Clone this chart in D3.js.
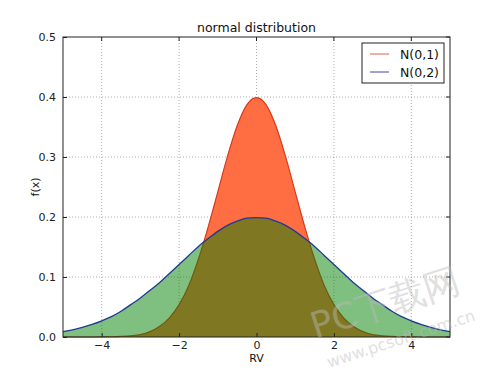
<!DOCTYPE html>
<html>
<head>
<meta charset="utf-8">
<script src="https://cdn.jsdelivr.net/npm/d3@7"></script>
<style>
  body { margin: 0; background: #fff; }
  text { font-family: "DejaVu Sans", sans-serif; }
</style>
</head>
<body>
<div id="chart"></div>
<script>
const xs = [-5, -4.75, -4.5, -4.25, -4, -3.75, -3.5, -3.25, -3, -2.75, -2.5, -2.25, -2, -1.75, -1.5, -1.25, -1, -0.75, -0.5, -0.25,
  0, 0.25, 0.5, 0.75, 1, 1.25, 1.5, 1.75, 2, 2.25, 2.5, 2.75, 3, 3.25, 3.5, 3.75, 4, 4.25, 4.5, 4.75, 5];
const n01 = [0, 0, 0, 0, 0.0001, 0.0004, 0.001, 0.002, 0.004, 0.009, 0.018, 0.032, 0.054, 0.086, 0.130, 0.183, 0.242, 0.301, 0.352, 0.387,
  0.399, 0.387, 0.352, 0.301, 0.242, 0.183, 0.130, 0.086, 0.054, 0.032, 0.018, 0.009, 0.004, 0.002, 0.001, 0.0004, 0.0001, 0, 0, 0, 0];
const n02 = [0.009, 0.012, 0.016, 0.021, 0.027, 0.034, 0.043, 0.054, 0.065, 0.078, 0.091, 0.106, 0.121, 0.136, 0.151, 0.164, 0.176, 0.186, 0.193, 0.198,
  0.199, 0.198, 0.193, 0.186, 0.176, 0.164, 0.151, 0.136, 0.121, 0.106, 0.091, 0.078, 0.065, 0.054, 0.043, 0.034, 0.027, 0.021, 0.016, 0.012, 0.009];
const xTicks = [-4, -2, 0, 2, 4];
const yTicks = [0.0, 0.1, 0.2, 0.3, 0.4, 0.5];
const labels = ["N(0,1)", "N(0,2)"];

const margin = { top: 37, right: 50, bottom: 38, left: 63 };
const width = 500 - margin.left - margin.right;
const height = 375 - margin.top - margin.bottom;

const x = d3.scaleLinear().domain([-5, 5]).range([0, width]);
const y = d3.scaleLinear().domain([0, 0.5]).range([height, 0]);

const svg = d3.select("#chart").append("svg")
  .attr("width", 500).attr("height", 375);

const g = svg.append("g")
  .attr("transform", `translate(${margin.left}, ${margin.top})`);

// grid
g.append("g").selectAll("line").data(xTicks).join("line")
  .attr("x1", d => x(d)).attr("x2", d => x(d))
  .attr("y1", 0).attr("y2", height)
  .attr("stroke", "#999").attr("stroke-dasharray", "1,2").attr("stroke-width", 0.8);
g.append("g").selectAll("line").data(yTicks.slice(1, -1)).join("line")
  .attr("y1", d => y(d)).attr("y2", d => y(d))
  .attr("x1", 0).attr("x2", width)
  .attr("stroke", "#999").attr("stroke-dasharray", "1,2").attr("stroke-width", 0.8);

const pts1 = xs.map((v, i) => ({ x: v, y: n01[i] }));
const pts2 = xs.map((v, i) => ({ x: v, y: n02[i] }));

const area = d3.area().x(d => x(d.x)).y0(y(0)).y1(d => y(d.y)).curve(d3.curveMonotoneX);
const line = d3.line().x(d => x(d.x)).y(d => y(d.y)).curve(d3.curveMonotoneX);

g.append("path").datum(pts1).attr("d", area).attr("fill", "#ff6e42");
g.append("path").datum(pts1).attr("d", line).attr("fill", "none")
  .attr("stroke", "#d83a1e").attr("stroke-width", 1.2);
g.append("path").datum(pts2).attr("d", area).attr("fill", "#008000").attr("fill-opacity", 0.5);
g.append("path").datum(pts2).attr("d", line).attr("fill", "none")
  .attr("stroke", "#1f3a93").attr("stroke-width", 1.3);

// frame
g.append("rect").attr("width", width).attr("height", height)
  .attr("fill", "none").attr("stroke", "#222").attr("stroke-width", 1);

// ticks
const xAxis = d3.axisBottom(x).tickValues(xTicks).tickSize(-4).tickPadding(4)
  .tickFormat(d => d < 0 ? "\u2212" + Math.abs(d) : d);
const yAxis = d3.axisLeft(y).tickValues(yTicks).tickSize(-4).tickPadding(7)
  .tickFormat(d3.format(".1f"));

const gx = g.append("g").attr("transform", `translate(0, ${height})`).call(xAxis);
const gy = g.append("g").call(yAxis);
[gx, gy].forEach(a => {
  a.select(".domain").remove();
  a.selectAll("text").attr("font-size", 11).attr("fill", "#222").attr("font-family", "DejaVu Sans");
  a.selectAll("line").attr("stroke", "#222");
});
// top/right ticks
g.append("g").selectAll("line").data(xTicks).join("line")
  .attr("x1", d => x(d)).attr("x2", d => x(d)).attr("y1", 0).attr("y2", 4).attr("stroke", "#222");
g.append("g").selectAll("line").data(yTicks).join("line")
  .attr("y1", d => y(d)).attr("y2", d => y(d)).attr("x1", width).attr("x2", width - 4).attr("stroke", "#222");

// labels
svg.append("text").attr("x", margin.left + width / 2).attr("y", 32)
  .attr("text-anchor", "middle").attr("font-size", 12.5).attr("fill", "#111").text("normal distribution");
svg.append("text").attr("x", margin.left + width / 2).attr("y", 362)
  .attr("text-anchor", "middle").attr("font-size", 11).attr("fill", "#111").text("RV");
svg.append("text").attr("transform", `translate(39, ${margin.top + height / 2}) rotate(-90)`)
  .attr("text-anchor", "middle").attr("font-size", 11).attr("fill", "#111").text("f(x)");

// legend
const lg = svg.append("g").attr("transform", "translate(362, 43)");
lg.append("rect").attr("width", 82).attr("height", 40)
  .attr("fill", "#fff").attr("stroke", "#222").attr("stroke-width", 1);
const legColors = ["#e06050", "#3a4aa0"];
labels.forEach((t, i) => {
  lg.append("line").attr("x1", 8).attr("x2", 27).attr("y1", 11 + i * 18).attr("y2", 11 + i * 18)
    .attr("stroke", legColors[i]).attr("stroke-width", 1);
  lg.append("text").attr("x", 38).attr("y", 15.5 + i * 18).attr("font-size", 12.5)
    .attr("fill", "#111").text(t);
});

// watermark
const wm = svg.append("g").attr("transform", "translate(392, 318) rotate(-18)").attr("opacity", 0.45);
wm.append("text").attr("x", -2).attr("y", -4).attr("text-anchor", "middle")
  .attr("font-size", 36).attr("fill", "#bbb").attr("font-family", "Noto Sans CJK SC").text("PC下载网");
wm.append("text").attr("x", 2).attr("y", 28).attr("text-anchor", "middle")
  .attr("font-size", 16).attr("fill", "#bbb").text("www.pcsoft.com.cn");
</script>
</body>
</html>
